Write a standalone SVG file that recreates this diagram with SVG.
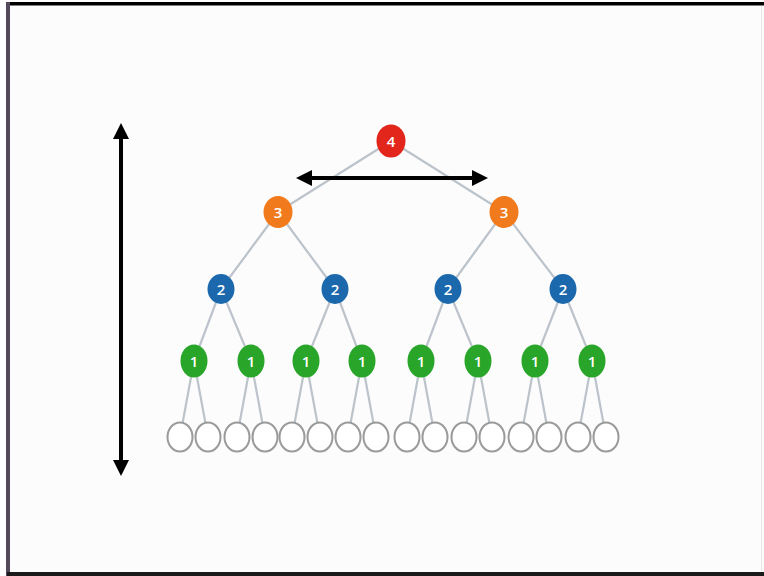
<svg xmlns="http://www.w3.org/2000/svg" width="764" height="576" viewBox="0 0 764 576">
<style>
.e{stroke:#bcc3cb;stroke-width:2.2;fill:none}
.t{font-family:"Open Sans","Liberation Sans",sans-serif;font-size:15px;font-weight:600;fill:#fff;text-anchor:middle;dominant-baseline:central}
.r{fill:#e2261b}.o{fill:#f17a1c}.b{fill:#1c68ad}.g{fill:#29a629}
.l{fill:#fff;stroke:#9a9a9a;stroke-width:2}
.a{stroke:#000;stroke-width:4;fill:none}
</style>
<defs>
<marker id="ah" markerWidth="4" markerHeight="4" refX="2" refY="2" orient="auto-start-reverse" markerUnits="strokeWidth" viewBox="0 0 4 4">
<path d="M0,0 L4,2 L0,4 Z" fill="#000"/>
</marker>
</defs>
<rect x="0" y="0" width="764" height="576" fill="#fff"/>
<rect x="10" y="5" width="754" height="567" fill="#fcfcfc"/>
<rect x="7" y="2" width="757" height="3.5" fill="#000"/>
<rect x="6" y="2" width="4" height="574" fill="#54495a"/>
<rect x="7" y="572" width="757" height="4" fill="#1a1a1a"/>
<line x1="761.5" y1="6" x2="761.5" y2="571" stroke="#e6e6e6" stroke-width="1"/>
<g id="connectors">
<path class="e" d="M391,141L278,212M391,141L504,212M278,212L221,289M278,212L335,289M504,212L448,289M504,212L563,289M221,289L194,361M221,289L251,361M335,289L306,361M335,289L362,361M448,289L421,361M448,289L478,361M563,289L535,361M563,289L592,361M194,361L180,437M194,361L208,437M251,361L237,437M251,361L265,437M306,361L292,437M306,361L320,437M362,361L348,437M362,361L376,437M421,361L407,437M421,361L435,437M478,361L464,437M478,361L492,437M535,361L521,437M535,361L549,437M592,361L578,437M592,361L606,437"/>
</g>
<g id="arrows">
<line class="a" x1="304" y1="178" x2="480" y2="178" marker-start="url(#ah)" marker-end="url(#ah)"/>
<line class="a" x1="121" y1="131" x2="121" y2="468" marker-start="url(#ah)" marker-end="url(#ah)"/>
</g>
<g id="n4"><ellipse class="r" cx="391" cy="141" rx="14.5" ry="16.5"/><text class="t" x="391" y="141">4</text></g>
<g id="n3a"><ellipse class="o" cx="278" cy="212" rx="14.5" ry="16"/><text class="t" x="278" y="212">3</text></g>
<g id="n3b"><ellipse class="o" cx="504" cy="212" rx="14.5" ry="16"/><text class="t" x="504" y="212">3</text></g>
<g id="n2a"><ellipse class="b" cx="221" cy="289" rx="13.5" ry="15"/><text class="t" x="221" y="289">2</text></g>
<g id="n2b"><ellipse class="b" cx="335" cy="289" rx="13.5" ry="15"/><text class="t" x="335" y="289">2</text></g>
<g id="n2c"><ellipse class="b" cx="448" cy="289" rx="13.5" ry="15"/><text class="t" x="448" y="289">2</text></g>
<g id="n2d"><ellipse class="b" cx="563" cy="289" rx="13.5" ry="15"/><text class="t" x="563" y="289">2</text></g>
<g id="n1a"><ellipse class="g" cx="194" cy="361" rx="13.5" ry="16.5"/><text class="t" x="194" y="361">1</text></g>
<g id="n1b"><ellipse class="g" cx="251" cy="361" rx="13.5" ry="16.5"/><text class="t" x="251" y="361">1</text></g>
<g id="n1c"><ellipse class="g" cx="306" cy="361" rx="13.5" ry="16.5"/><text class="t" x="306" y="361">1</text></g>
<g id="n1d"><ellipse class="g" cx="362" cy="361" rx="13.5" ry="16.5"/><text class="t" x="362" y="361">1</text></g>
<g id="n1e"><ellipse class="g" cx="421" cy="361" rx="13.5" ry="16.5"/><text class="t" x="421" y="361">1</text></g>
<g id="n1f"><ellipse class="g" cx="478" cy="361" rx="13.5" ry="16.5"/><text class="t" x="478" y="361">1</text></g>
<g id="n1g"><ellipse class="g" cx="535" cy="361" rx="13.5" ry="16.5"/><text class="t" x="535" y="361">1</text></g>
<g id="n1h"><ellipse class="g" cx="592" cy="361" rx="13.5" ry="16.5"/><text class="t" x="592" y="361">1</text></g>
<g id="leaves">
<g id="l1"><ellipse class="l" cx="180" cy="437" rx="12.5" ry="14.5"/></g>
<g id="l2"><ellipse class="l" cx="208" cy="437" rx="12.5" ry="14.5"/></g>
<g id="l3"><ellipse class="l" cx="237" cy="437" rx="12.5" ry="14.5"/></g>
<g id="l4"><ellipse class="l" cx="265" cy="437" rx="12.5" ry="14.5"/></g>
<g id="l5"><ellipse class="l" cx="292" cy="437" rx="12.5" ry="14.5"/></g>
<g id="l6"><ellipse class="l" cx="320" cy="437" rx="12.5" ry="14.5"/></g>
<g id="l7"><ellipse class="l" cx="348" cy="437" rx="12.5" ry="14.5"/></g>
<g id="l8"><ellipse class="l" cx="376" cy="437" rx="12.5" ry="14.5"/></g>
<g id="l9"><ellipse class="l" cx="407" cy="437" rx="12.5" ry="14.5"/></g>
<g id="l10"><ellipse class="l" cx="435" cy="437" rx="12.5" ry="14.5"/></g>
<g id="l11"><ellipse class="l" cx="464" cy="437" rx="12.5" ry="14.5"/></g>
<g id="l12"><ellipse class="l" cx="492" cy="437" rx="12.5" ry="14.5"/></g>
<g id="l13"><ellipse class="l" cx="521" cy="437" rx="12.5" ry="14.5"/></g>
<g id="l14"><ellipse class="l" cx="549" cy="437" rx="12.5" ry="14.5"/></g>
<g id="l15"><ellipse class="l" cx="578" cy="437" rx="12.5" ry="14.5"/></g>
<g id="l16"><ellipse class="l" cx="606" cy="437" rx="12.5" ry="14.5"/></g>
</g>
</svg>
